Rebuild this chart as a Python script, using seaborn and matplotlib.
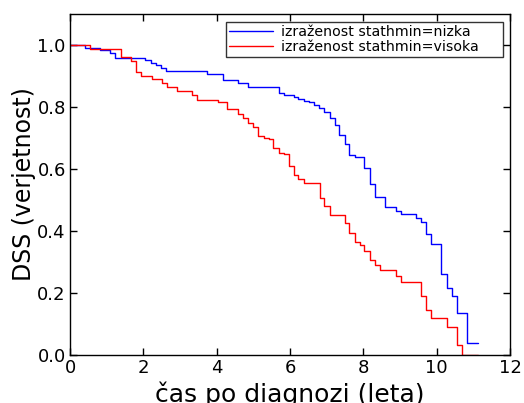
import matplotlib
matplotlib.use("Agg")
import matplotlib.pyplot as plt
import seaborn as sns
import pandas as pd

# Kaplan-Meier step curves (time in years, survival probability)
groups = ["izraženost stathmin=nizka", "izraženost stathmin=visoka"]

time_low = [0.0, 0.40, 0.83, 1.08, 1.24, 2.05, 2.22, 2.34, 2.49, 2.63, 3.74, 4.17,
            4.58, 4.86, 5.69, 5.83, 6.10, 6.23, 6.37, 6.51, 6.66, 6.80, 6.93, 7.08,
            7.22, 7.35, 7.49, 7.62, 7.76, 8.03, 8.19, 8.33, 8.60, 8.88, 9.03, 9.44,
            9.58, 9.72, 9.85, 10.13, 10.28, 10.42, 10.55, 10.83, 11.12]
surv_low = [1.0, 0.990, 0.984, 0.973, 0.957, 0.952, 0.943, 0.935, 0.925, 0.915, 0.906, 0.887,
            0.876, 0.866, 0.846, 0.839, 0.831, 0.825, 0.820, 0.815, 0.806, 0.797, 0.785, 0.763,
            0.742, 0.710, 0.680, 0.644, 0.639, 0.602, 0.553, 0.509, 0.476, 0.466, 0.455, 0.443,
            0.430, 0.389, 0.357, 0.261, 0.217, 0.190, 0.137, 0.038, 0.038]

time_high = [0.0, 0.55, 1.39, 1.67, 1.81, 1.94, 2.24, 2.51, 2.65, 2.92, 3.33, 3.46,
             4.04, 4.28, 4.58, 4.72, 4.85, 4.99, 5.14, 5.28, 5.42, 5.55, 5.69, 5.83,
             5.96, 6.10, 6.23, 6.37, 6.81, 6.94, 7.08, 7.49, 7.62, 7.76, 7.90, 8.03,
             8.19, 8.33, 8.46, 8.89, 9.03, 9.58, 9.72, 9.85, 10.28, 10.55, 10.69, 11.12]
surv_high = [1.0, 0.987, 0.962, 0.949, 0.914, 0.900, 0.889, 0.878, 0.864, 0.853, 0.838, 0.824,
             0.817, 0.794, 0.777, 0.765, 0.749, 0.736, 0.705, 0.699, 0.696, 0.669, 0.651, 0.647,
             0.611, 0.581, 0.567, 0.554, 0.505, 0.480, 0.451, 0.427, 0.395, 0.366, 0.355, 0.337,
             0.306, 0.290, 0.274, 0.254, 0.234, 0.190, 0.145, 0.120, 0.091, 0.032, 0.0, 0.0]

x_ticks = [0, 2, 4, 6, 8, 10, 12]
y_ticks = [0.0, 0.2, 0.4, 0.6, 0.8, 1.0]

df = pd.concat([
    pd.DataFrame({"t": time_low, "s": surv_low, "grp": groups[0]}),
    pd.DataFrame({"t": time_high, "s": surv_high, "grp": groups[1]}),
], ignore_index=True)

sns.set_style("ticks")
plt.rcParams["font.family"] = ["DejaVu Sans"]
plt.rcParams["text.color"] = "black"
plt.rcParams["axes.labelcolor"] = "black"
plt.rcParams["xtick.color"] = "black"
plt.rcParams["ytick.color"] = "black"

fig = plt.figure(figsize=(5.24, 4.03), dpi=100)
ax = fig.add_axes([70 / 524, 48 / 403, 440 / 524, 341 / 403])

sns.lineplot(data=df, x="t", y="s", hue="grp", palette=["#0000ff", "#ff0000"],
             estimator=None, sort=False, drawstyle="steps-post", linewidth=1.0,
             ax=ax, legend=True)

ax.set_xlim(0, 12)
ax.set_ylim(0, 1.1)
ax.set_xticks(x_ticks)
ax.set_yticks(y_ticks)
ax.set_yticklabels([f"{v:.1f}" for v in y_ticks])
ax.tick_params(axis="both", which="both", direction="in", length=5, width=1,
               top=True, right=True, labelsize=13, colors="black", pad=3)
for sp in ax.spines.values():
    sp.set_color("black")
    sp.set_linewidth(1.0)

ax.set_xlabel("čas po diagnozi (leta)", fontsize=18, labelpad=3)
ax.set_ylabel("DSS (verjetnost)", fontsize=17, labelpad=1)

handles, labels = ax.get_legend_handles_labels()
leg = ax.legend(handles, labels, loc="upper left",
                bbox_to_anchor=(0.3545, 0.9765, 0.6295, 0.0), mode="expand",
                fontsize=10.2, frameon=True, fancybox=False, borderpad=0.2,
                labelspacing=0.08, handlelength=3.1, handletextpad=0.55,
                borderaxespad=0.0)
leg.get_frame().set_edgecolor("black")
leg.get_frame().set_linewidth(1.0)
for txt in leg.get_texts():
    txt.set_color("black")

fig.savefig("out.png", dpi=100)
